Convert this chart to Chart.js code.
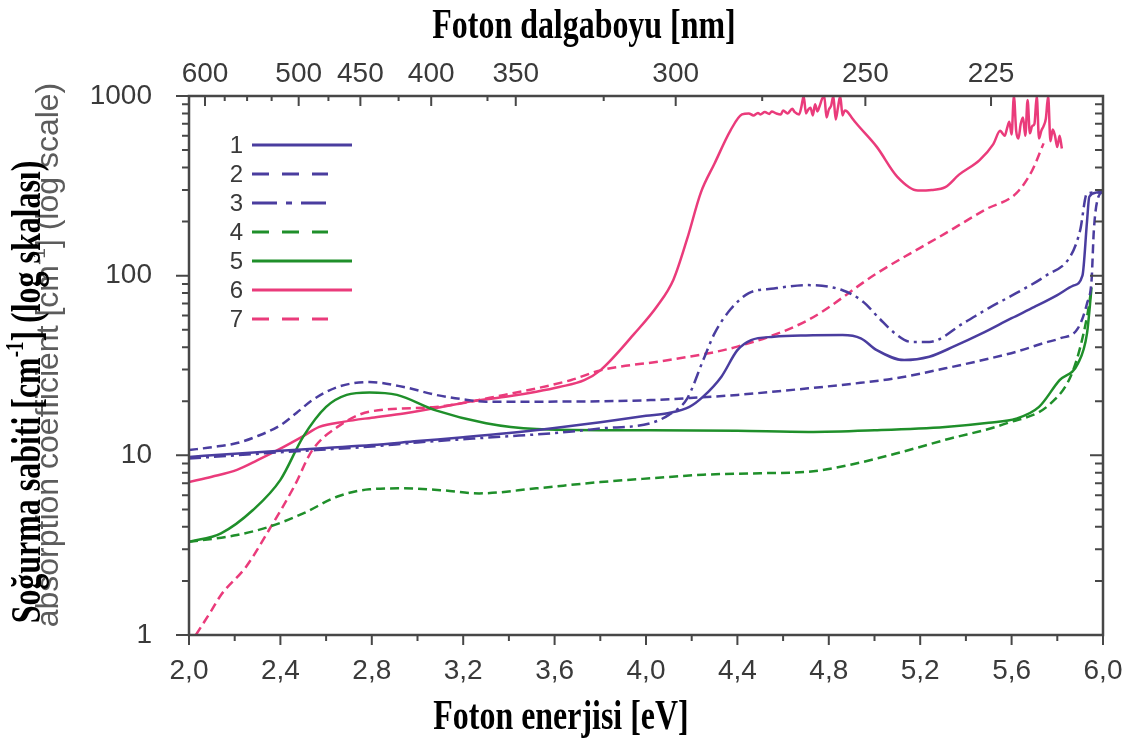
<!DOCTYPE html>
<html>
<head>
<meta charset="utf-8">
<script src="https://cdn.jsdelivr.net/npm/chart.js@4.4.1/dist/chart.umd.min.js"></script>
<style>
    html, body { margin: 0; padding: 0; background: #fff; }
    #wrap { width: 1136px; height: 738px; position: relative; }
</style>
</head>
<body>
<div id="wrap"><canvas id="absorption-chart"></canvas></div>
<script>
const HC = 1239.84; // eV * nm

// axis ticks
const energyTicks = [2.0, 2.4, 2.8, 3.2, 3.6, 4.0, 4.4, 4.8, 5.2, 5.6, 6.0];
const waveLabels = [600, 500, 450, 400, 350, 300, 250, 225];
// where the figure places the wavelength labels (eV)
const waveLabelEnergy = [2.07, 2.48, 2.75, 3.06, 3.43, 4.13, 4.96, 5.51];
const waveMinor = [575, 550, 525, 475, 425, 375, 325, 275];
const alphaTicks = [1, 10, 100, 1000];
const seriesNames = ['1', '2', '3', '4', '5', '6', '7'];

// 1 - blue solid
const e1 = [2.0, 2.2, 2.4, 2.6, 2.8, 3.0, 3.2, 3.4, 3.6, 3.8, 4.0, 4.1, 4.19, 4.25, 4.33, 4.40, 4.46, 4.56, 4.7, 4.86, 4.94, 5.01, 5.13, 5.24, 5.35, 5.47, 5.6, 5.7, 5.8, 5.87, 5.91, 5.93, 5.94, 5.97, 6.0];
const a1 = [9.8, 10.2, 10.6, 11.0, 11.4, 12.0, 12.6, 13.3, 14.2, 15.3, 16.6, 17.2, 18.6, 21.2, 27.4, 38.5, 43.8, 45.7, 46.5, 46.7, 44.8, 38.5, 33.9, 35.4, 40.5, 47.7, 58, 67, 78, 88, 100, 200, 275, 290, 292];

// 2 - blue dashed
const e2 = [2.0, 2.1, 2.21, 2.3, 2.40, 2.47, 2.54, 2.65, 2.79, 2.94, 3.08, 3.2, 3.30, 3.52, 3.8, 4.02, 4.18, 4.40, 4.71, 4.9, 5.09, 5.31, 5.5, 5.62, 5.75, 5.81, 5.89, 5.93, 5.95, 5.96, 5.98, 6.0];
const a2 = [10.7, 11.1, 11.7, 12.8, 14.7, 17.2, 20.3, 24.0, 25.6, 24.0, 21.7, 20.5, 19.9, 19.9, 20.0, 20.3, 20.8, 21.7, 23.6, 25.0, 26.8, 30.5, 34.5, 37.7, 42.5, 44.7, 50.9, 70, 94.5, 179, 275, 292];

// 3 - blue dash-dot
const e3 = [2.0, 2.4, 2.8, 3.0, 3.37, 3.6, 3.80, 4.02, 4.10, 4.18, 4.25, 4.30, 4.37, 4.45, 4.56, 4.71, 4.86, 4.95, 5.02, 5.09, 5.16, 5.24, 5.39, 5.5, 5.62, 5.75, 5.86, 5.90, 5.93, 6.0];
const a3 = [9.6, 10.4, 11.2, 11.8, 12.7, 13.3, 14.1, 15.1, 16.8, 20.7, 33.8, 47.7, 65, 79.9, 84.8, 88.6, 83.0, 71.6, 58, 47.7, 42.8, 42.8, 54.5, 66, 79.9, 100, 130, 179, 287, 292];

// 4 - green dashed
const e4 = [2.0, 2.21, 2.35, 2.50, 2.65, 2.79, 2.94, 3.1, 3.27, 3.52, 3.8, 4.02, 4.25, 4.5, 4.71, 4.9, 5.09, 5.31, 5.58, 5.77, 5.87, 5.93, 5.95];
const a4 = [3.3, 3.6, 4.0, 4.75, 5.9, 6.47, 6.55, 6.4, 6.14, 6.55, 7.1, 7.45, 7.8, 7.95, 8.1, 8.9, 10.2, 12.2, 15.1, 19.4, 29.9, 59, 86];

// 5 - green solid
const e5 = [2.0, 2.14, 2.28, 2.40, 2.50, 2.60, 2.69, 2.79, 2.91, 3.08, 3.30, 3.52, 3.8, 4.02, 4.4, 4.71, 5.0, 5.31, 5.5, 5.62, 5.72, 5.81, 5.89, 5.93, 5.95];
const a5 = [3.3, 3.68, 4.96, 7.3, 12.7, 18.6, 21.7, 22.4, 21.7, 17.8, 15.1, 14.0, 13.8, 13.8, 13.7, 13.5, 13.8, 14.4, 15.2, 16.0, 18.6, 26.2, 32.4, 47.7, 86];

// 6 - pink solid (noisy plateaus)
const e6 = [2.0, 2.1, 2.21, 2.30, 2.40, 2.50, 2.57, 2.68, 2.8, 2.94, 3.1, 3.23, 3.4, 3.52, 3.62, 3.73, 3.80, 3.95, 4.05, 4.12, 4.18, 4.24, 4.30, 4.37, 4.42,
    4.45, 4.47, 4.49, 4.50, 4.52, 4.54, 4.55, 4.57, 4.59, 4.60, 4.62, 4.64, 4.65, 4.67, 4.68, 4.69, 4.70, 4.71, 4.72, 4.73, 4.74, 4.75, 4.76, 4.77, 4.78, 4.79, 4.80, 4.81, 4.82, 4.83, 4.84, 4.85, 4.86, 4.87, 4.88, 4.90,
    4.92, 5.01, 5.10, 5.19, 5.25, 5.31, 5.37, 5.46, 5.52, 5.55,
    5.56, 5.57, 5.58, 5.59, 5.60, 5.61, 5.62, 5.63, 5.64, 5.65, 5.66, 5.67, 5.68, 5.69, 5.70, 5.71, 5.72, 5.73, 5.74, 5.75, 5.76, 5.77, 5.78, 5.79, 5.80, 5.81, 5.82];
const a6 = [7.1, 7.6, 8.3, 9.4, 10.9, 12.8, 14.4, 15.4, 16.2, 17.1, 18.5, 19.9, 21.3, 22.6, 24, 26.2, 29.7, 47.7, 68, 95, 160, 290, 421, 644, 790,
    800, 780, 805, 790, 815, 795, 820, 800, 790, 830, 800, 850, 815, 790, 870, 1000, 800, 840, 860, 780, 900, 820, 880, 960, 1000, 760, 840, 880, 1000, 740, 860, 1000, 780, 830, 820, 760,
    705, 521, 355, 298, 300, 311, 365, 440, 540, 640,
    620, 600, 660, 720, 610, 1000, 640, 580, 700, 760, 600, 950, 620, 680, 700, 1000, 580, 640, 680, 750, 1000, 560, 650, 600, 520, 600, 510];

// 7 - pink dashed
const e7 = [2.03, 2.1, 2.14, 2.25, 2.35, 2.46, 2.54, 2.65, 2.79, 3.08, 3.38, 3.67, 3.80, 4.10, 4.40, 4.71, 5.01, 5.31, 5.49, 5.62, 5.69, 5.74];
const a7 = [1.0, 1.38, 1.67, 2.4, 3.84, 6.7, 10.7, 14.4, 17.5, 18.6, 21.7, 26.2, 29.7, 33.9, 40.3, 56.7, 103, 172, 235, 287, 385, 545];

const BLUE = '#4a3d9f';
const GREEN = '#1f8f2a';
const PINK = '#ea3b7b';
const AXIS = '#474747';
const LABEL = '#3a3a3a';

const toPoints = (xs, ys) => xs.map((x, i) => ({ x: x, y: ys[i] }));

function series(label, xs, ys, color, dash, legendDash) {
    return {
        label: label,
        data: toPoints(xs, ys),
        borderColor: color,
        backgroundColor: color,
        borderWidth: 2.5,
        borderDash: dash,
        legendDash: legendDash,
        pointRadius: 0,
        cubicInterpolationMode: 'monotone',
        fill: false
    };
}

const datasets = [
    series(seriesNames[0], e1, a1, BLUE, [], []),
    series(seriesNames[1], e2, a2, BLUE, [9, 5], [17, 13]),
    series(seriesNames[2], e3, a3, BLUE, [12, 5, 3, 5], [25, 9, 6, 9]),
    series(seriesNames[3], e4, a4, GREEN, [9, 5], [17, 13]),
    series(seriesNames[4], e5, a5, GREEN, [], []),
    series(seriesNames[5], e6, a6, PINK, [], []),
    series(seriesNames[6], e7, a7, PINK, [9, 5], [17, 13])
];

// frame, inward/outward tick marks
const frameAndTicks = {
    id: 'frame-and-ticks',
    afterDatasetsDraw(chart) {
        const { ctx, chartArea: a, scales } = chart;
        const x = scales.x;
        const y = scales.y;
        ctx.save();
        ctx.strokeStyle = AXIS;
        ctx.lineWidth = 2;
        ctx.beginPath();
        // bottom: outward, every 0.2 eV
        for (let i = 0; i <= 20; i++) {
            const px = x.getPixelForValue(2 + i * 0.2);
            const len = i % 2 ? 6 : 10;
            ctx.moveTo(px, a.bottom);
            ctx.lineTo(px, a.bottom + len);
        }
        // top: inward
        waveLabelEnergy.forEach(ev => {
            const px = x.getPixelForValue(ev);
            ctx.moveTo(px, a.top);
            ctx.lineTo(px, a.top + 10);
        });
        waveMinor.forEach(n => {
            const px = x.getPixelForValue(HC / n);
            ctx.moveTo(px, a.top);
            ctx.lineTo(px, a.top + 5);
        });
        // left outward, right inward
        alphaTicks.forEach(d => {
            const py = y.getPixelForValue(d);
            ctx.moveTo(a.left - 13, py);
            ctx.lineTo(a.left, py);
            ctx.moveTo(a.right - 13, py);
            ctx.lineTo(a.right, py);
            if (d === 1000) {
                return;
            }
            for (let k = 2; k <= 9; k++) {
                const pm = y.getPixelForValue(k * d);
                ctx.moveTo(a.left - 7, pm);
                ctx.lineTo(a.left, pm);
                ctx.moveTo(a.right - 8, pm);
                ctx.lineTo(a.right, pm);
            }
        });
        ctx.stroke();
        ctx.lineWidth = 2.5;
        ctx.strokeRect(a.left, a.top, a.right - a.left, a.bottom - a.top);
        ctx.restore();
    }
};

// "1 ----" style key in the upper left
const numberLegend = {
    id: 'number-legend',
    afterDraw(chart) {
        const ctx = chart.ctx;
        ctx.save();
        ctx.font = '24px "Liberation Sans", Arial, sans-serif';
        ctx.textAlign = 'right';
        ctx.textBaseline = 'middle';
        chart.data.datasets.forEach((ds, i) => {
            const yy = 145 + i * 29;
            ctx.fillStyle = LABEL;
            ctx.fillText(ds.label, 243, yy + 1);
            ctx.strokeStyle = ds.borderColor;
            ctx.lineWidth = 3;
            ctx.setLineDash(ds.legendDash);
            ctx.beginPath();
            ctx.moveTo(252, yy);
            ctx.lineTo(ds.legendDash.length ? 328 : 352, yy);
            ctx.stroke();
        });
        ctx.restore();
    }
};

function drawRich(ctx, parts) {
    let total = 0;
    parts.forEach(p => {
        ctx.font = p.font;
        p.w = ctx.measureText(p.t).width;
        total += p.w;
    });
    let cx = -total / 2;
    parts.forEach(p => {
        ctx.font = p.font;
        ctx.fillText(p.t, cx, p.dy || 0);
        cx += p.w;
    });
}

const axisTitles = {
    id: 'axis-titles',
    afterDraw(chart) {
        const ctx = chart.ctx;
        const serifBold = 'bold 42px "Liberation Serif", "Times New Roman", serif';
        const supBold = 'bold 25px "Liberation Serif", "Times New Roman", serif';
        const sans = '32px "Liberation Sans", Arial, sans-serif';
        const supSans = '19px "Liberation Sans", Arial, sans-serif';
        ctx.save();
        ctx.textAlign = 'left';
        ctx.textBaseline = 'alphabetic';

        // gray english label (from the original figure)
        ctx.save();
        ctx.fillStyle = '#5c5c5c';
        ctx.translate(58, 355);
        ctx.rotate(-Math.PI / 2);
        drawRich(ctx, [
            { t: 'absorption coefficient [cm', font: sans },
            { t: '-1', font: supSans, dy: -13 },
            { t: '] (log scale)', font: sans }
        ]);
        ctx.restore();

        ctx.fillStyle = '#000';
        ctx.save();
        ctx.translate(40, 392);
        ctx.rotate(-Math.PI / 2);
        ctx.scale(0.76, 1);
        drawRich(ctx, [
            { t: 'Soğurma sabiti [cm', font: serifBold },
            { t: '-1', font: supBold, dy: -17 },
            { t: '] (log skalası)', font: serifBold }
        ]);
        ctx.restore();

        ctx.save();
        ctx.translate(584, 38);
        ctx.scale(0.76, 1);
        drawRich(ctx, [{ t: 'Foton dalgaboyu [nm]', font: serifBold }]);
        ctx.restore();

        ctx.save();
        ctx.translate(561, 729);
        ctx.scale(0.76, 1);
        drawRich(ctx, [{ t: 'Foton enerjisi [eV]', font: serifBold }]);
        ctx.restore();

        ctx.restore();
    }
};

const tickFont = { family: '"Liberation Sans", Arial, sans-serif', size: 28 };

new Chart(document.getElementById('absorption-chart'), {
    type: 'line',
    data: { datasets: datasets },
    options: {
        responsive: true,
        maintainAspectRatio: false,
        animation: false,
        devicePixelRatio: 1,
        layout: { padding: { top: 0, left: 0, right: 33, bottom: 0 } },
        plugins: {
            legend: { display: false },
            tooltip: { enabled: false }
        },
        scales: {
            x: {
                type: 'linear',
                position: 'bottom',
                min: 2,
                max: 6,
                grid: { display: false },
                border: { display: false },
                afterBuildTicks: s => { s.ticks = energyTicks.map(v => ({ value: v })); },
                afterFit: s => { s.height = 103; },
                ticks: {
                    autoSkip: false,
                    maxRotation: 0,
                    padding: 11,
                    color: LABEL,
                    font: tickFont,
                    callback: v => v.toFixed(1).replace('.', ',')
                }
            },
            x2: {
                type: 'linear',
                position: 'top',
                min: 2,
                max: 6,
                grid: { display: false },
                border: { display: false },
                afterBuildTicks: s => { s.ticks = waveLabelEnergy.map(v => ({ value: v })); },
                afterFit: s => { s.height = 96; },
                ticks: {
                    autoSkip: false,
                    maxRotation: 0,
                    padding: -3,
                    color: LABEL,
                    font: tickFont,
                    callback: (v, i) => String(waveLabels[i])
                }
            },
            y: {
                type: 'logarithmic',
                position: 'left',
                min: 1,
                max: 1000,
                grid: { display: false },
                border: { display: false },
                afterBuildTicks: s => { s.ticks = alphaTicks.map(v => ({ value: v })); },
                afterFit: s => { s.width = 189; },
                ticks: {
                    autoSkip: false,
                    padding: 29,
                    color: LABEL,
                    font: tickFont,
                    callback: v => String(v)
                }
            }
        }
    },
    plugins: [frameAndTicks, numberLegend, axisTitles]
});
</script>
</body>
</html>
